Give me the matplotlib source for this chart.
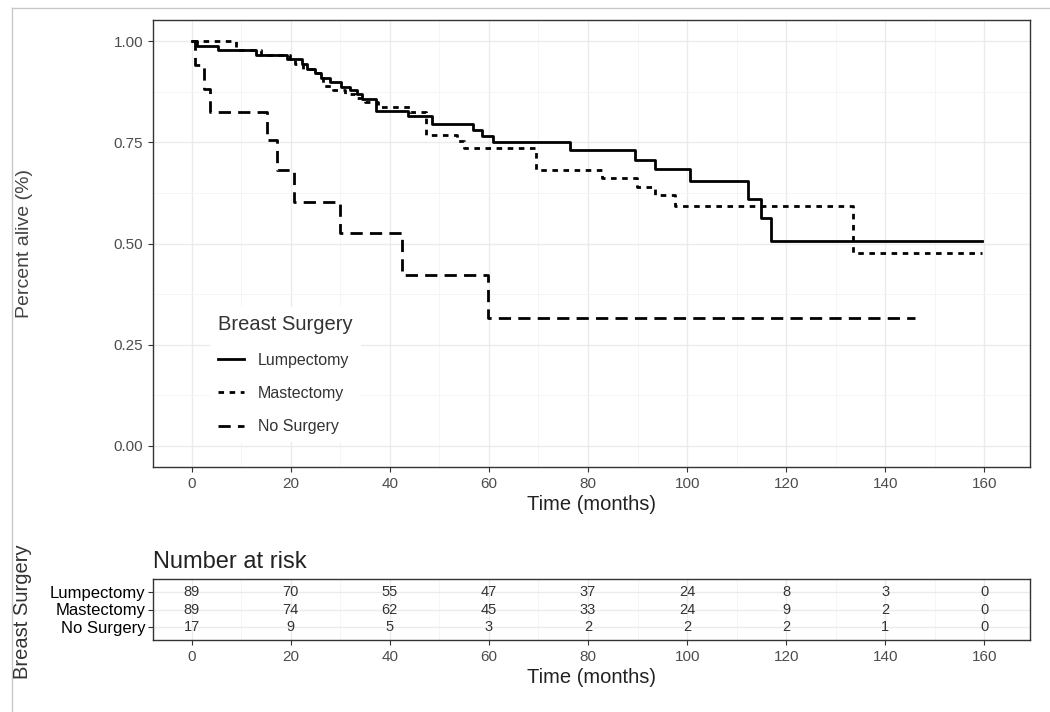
import numpy as np
import matplotlib
matplotlib.use('Agg')
import matplotlib.pyplot as plt
from matplotlib.lines import Line2D

plt.rcParams['font.family'] = ['Liberation Sans', 'DejaVu Sans']

# survival curves (time in months, survival fraction)
lump_t = [0, 1, 5.3, 13, 19.3, 22.3, 23.3, 24.8, 26.2, 28, 30.2, 32, 33.3, 34.3, 37.2,
          43.6, 48.6, 56.7, 58.5, 60.8, 76.3, 89.5, 93.5, 100.5, 112.3, 115, 117, 159.6]
lump_s = [1.0, 0.989, 0.978, 0.966, 0.955, 0.944, 0.930, 0.920, 0.908, 0.900, 0.887, 0.879,
          0.870, 0.858, 0.827, 0.814, 0.796, 0.780, 0.766, 0.750, 0.731, 0.706, 0.683,
          0.655, 0.610, 0.562, 0.507, 0.507]
mast_t = [0, 9, 14, 19.8, 20.8, 22.5, 25, 26.5, 28.5, 31, 33, 35, 37.7, 44, 47.3, 53.5,
          55, 69.4, 82.8, 89.8, 93.5, 97.5, 133.5, 159.6]
mast_s = [1.0, 0.978, 0.966, 0.955, 0.944, 0.930, 0.920, 0.890, 0.880, 0.870, 0.860,
          0.850, 0.838, 0.824, 0.768, 0.752, 0.737, 0.682, 0.662, 0.640, 0.619, 0.593,
          0.477, 0.477]
nosurg_t = [0, 0.7, 2.5, 3.8, 15.2, 17.2, 20.6, 29.9, 42.5, 59.9, 145.9]
nosurg_s = [1.0, 0.941, 0.882, 0.824, 0.756, 0.681, 0.602, 0.526, 0.422, 0.316, 0.316]

groups = ['Lumpectomy', 'Mastectomy', 'No Surgery']
risk_times = [0, 20, 40, 60, 80, 100, 120, 140, 160]
lump_risk = [89, 70, 55, 47, 37, 24, 8, 3, 0]
mast_risk = [89, 74, 62, 45, 33, 24, 9, 2, 0]
nosurg_risk = [17, 9, 5, 3, 2, 2, 2, 1, 0]

W, H = 1050, 712
fig = plt.figure(figsize=(W / 100, H / 100), dpi=100)

# light frame of the screenshot
fig.add_artist(Line2D([12 / W, 12 / W], [0, 1 - 8 / H], color='#c8c8c8', lw=1))
fig.add_artist(Line2D([12 / W, 1], [1 - 8 / H, 1 - 8 / H], color='#c8c8c8', lw=1))

gridc = '#ebebeb'
tickc = '#4d4d4d'
framec = '#333333'

def style_axes(a):
    for s in a.spines.values():
        s.set_color(framec)
        s.set_linewidth(1.0)
    a.tick_params(colors=framec, labelcolor=tickc, labelsize=11, length=3.5, width=0.8)
    a.grid(True, which='major', color=gridc, lw=1.0)
    a.grid(True, which='minor', color='#f4f4f4', lw=0.6)
    a.set_axisbelow(True)

L, R = 153, 1030
ax = fig.add_axes([L / W, (H - 467) / H, (R - L) / W, (467 - 20) / H])
style_axes(ax)
lw = 2.0
ax.step(lump_t, lump_s, where='post', color='black', lw=lw, label=groups[0])
ax.step(mast_t, mast_s, where='post', color='black', lw=lw,
        linestyle=(0, (2.0, 2.0)), label=groups[1])
ax.step(nosurg_t, nosurg_s, where='post', color='black', lw=lw,
        linestyle=(0, (4.4, 2.6)), label=groups[2])
ax.set_xlim(-7.8, 169.2)
ax.set_ylim(-0.052, 1.052)
ax.set_xticks(risk_times)
ax.set_xticks(np.arange(10, 170, 20), minor=True)
ax.set_yticks([0, 0.25, 0.5, 0.75, 1.0])
ax.set_yticklabels(['0.00', '0.25', '0.50', '0.75', '1.00'])
ax.set_yticks([0.125, 0.375, 0.625, 0.875], minor=True)
ax.tick_params(which='minor', length=0)
ax.set_xlabel('Time (months)', fontsize=14.5, color='#222222', labelpad=3)
ax.set_ylabel('Percent alive (%)', fontsize=14, color='#444444')
ax.yaxis.set_label_coords(-0.137, 0.5)

leg = ax.legend(loc='upper left', bbox_to_anchor=(0.056, 0.375), title='Breast Surgery',
                fontsize=11.5, title_fontsize=14.5, frameon=True, facecolor='white',
                edgecolor='none', framealpha=1, handlelength=1.6, handletextpad=0.9,
                labelspacing=1.15, borderpad=0.5, fancybox=False)
leg._legend_box.align = 'left'
for t in leg.get_texts():
    t.set_color('#333333')
leg.get_title().set_color('#333333')

# number at risk table
rax = fig.add_axes([L / W, (H - 640) / H, (R - L) / W, (640 - 579) / H])
style_axes(rax)
rax.set_xlim(-7.8, 169.2)
rax.set_ylim(3.75, 0.25)
rax.set_xticks(risk_times)
rax.set_xticks(np.arange(10, 170, 20), minor=True)
rax.set_yticks([1, 2, 3])
rax.set_yticklabels(groups)
rax.tick_params(axis='y', labelcolor='black', labelsize=12, pad=2)
rax.tick_params(which='minor', length=0)
for row, vals in enumerate([lump_risk, mast_risk, nosurg_risk]):
    for t, v in zip(risk_times, vals):
        rax.text(t, row + 1, str(v), ha='center', va='center', fontsize=10.5, color='#333333')
rax.set_xlabel('Time (months)', fontsize=14.5, color='#222222', labelpad=3)
rax.set_title('Number at risk', loc='left', fontsize=17, color='#222222', pad=8)
fig.text(23 / W, 1 - 612 / H, 'Breast Surgery', rotation=90, ha='center', va='center',
         fontsize=14.5, color='#333333')

fig.savefig('out.png', dpi=100)
